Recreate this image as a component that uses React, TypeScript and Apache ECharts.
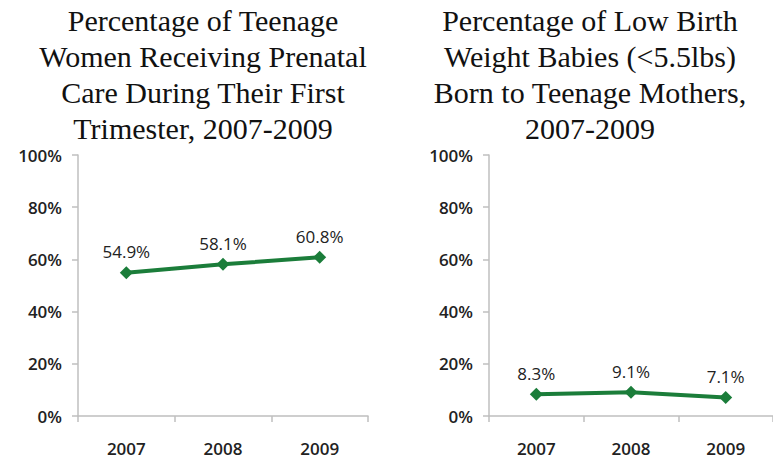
import React, { useEffect, useRef } from "react";
import * as echarts from "echarts";

const years = ["2007", "2008", "2009"];
const prenatalCare = [54.9, 58.1, 60.8];
const lowBirthWeight = [8.3, 9.1, 7.1];
const yTicks = [0, 20, 40, 60, 80, 100];
const leftTitle = ["Percentage of Teenage", "Women Receiving Prenatal", "Care During Their First", "Trimester, 2007-2009"];
const rightTitle = ["Percentage of Low Birth", "Weight Babies (<5.5lbs)", "Born to Teenage Mothers,", "2007-2009"];

const GREEN = "#1b7d3a";
const AXIS = "#bfbfbf";
const TEXT = "#222222";
const SANS = "'Open Sans', 'DejaVu Sans', sans-serif";
const SERIF = "'Liberation Serif', 'DejaVu Serif', serif";

export default function App() {
  const ref = useRef<HTMLDivElement>(null);
  useEffect(() => {
    if (!ref.current) return;
    const chart = echarts.init(ref.current, null, { renderer: "svg" });
    const xAxisBase = (gridIndex: number) => ({
      type: "category" as const,
      gridIndex,
      data: years,
      boundaryGap: true,
      axisLine: { lineStyle: { color: AXIS, width: 1.5 } },
      axisTick: { show: true, length: 6, lineStyle: { color: AXIS, width: 1.5 } },
      axisLabel: { color: TEXT, fontFamily: SANS, fontSize: 17, fontWeight: 600, margin: 24 },
    });
    const yAxisBase = (gridIndex: number) => ({
      type: "value" as const,
      gridIndex,
      min: yTicks[0],
      max: yTicks[yTicks.length - 1],
      interval: 20,
      splitLine: { show: false },
      axisLine: { show: true, lineStyle: { color: AXIS, width: 1.5 } },
      axisTick: { show: true, length: 6, lineStyle: { color: AXIS, width: 1.5 } },
      axisLabel: { color: TEXT, fontFamily: SANS, fontSize: 17, fontWeight: 600, margin: 16, formatter: "{value}%" },
    });
    const seriesBase = (idx: number, data: number[]) => ({
      type: "line" as const,
      xAxisIndex: idx,
      yAxisIndex: idx,
      data,
      symbol: "diamond",
      symbolSize: 13,
      lineStyle: { color: GREEN, width: 4 },
      itemStyle: { color: GREEN },
      label: {
        show: true,
        position: "top" as const,
        distance: 6,
        color: TEXT,
        fontFamily: SANS,
        fontSize: 17,
        formatter: (p: any) => `${p.value}%`,
      },
    });
    const titleStyle = { fontFamily: SERIF, fontSize: 30, fontWeight: "normal" as const, color: "#111111", lineHeight: 36 };
    chart.setOption({
      animation: false,
      backgroundColor: "#ffffff",
      title: [
        { text: leftTitle.join("\n"), left: 203, top: 2, padding: 0, textAlign: "center", textStyle: titleStyle },
        { text: rightTitle.join("\n"), left: 590, top: 2, padding: 0, textAlign: "center", textStyle: titleStyle },
      ],
      grid: [
        { left: 78, top: 155, width: 290, height: 261 },
        { left: 489, top: 155, width: 291, height: 261 },
      ],
      xAxis: [xAxisBase(0), xAxisBase(1)],
      yAxis: [yAxisBase(0), yAxisBase(1)],
      series: [seriesBase(0, prenatalCare), seriesBase(1, lowBirthWeight)],
    });
    return () => chart.dispose();
  }, []);
  return (
    <div
      ref={ref}
      style={{ position: "fixed", left: 0, top: 0, width: 773, height: 461, background: "#fff" }}
    />
  );
}
